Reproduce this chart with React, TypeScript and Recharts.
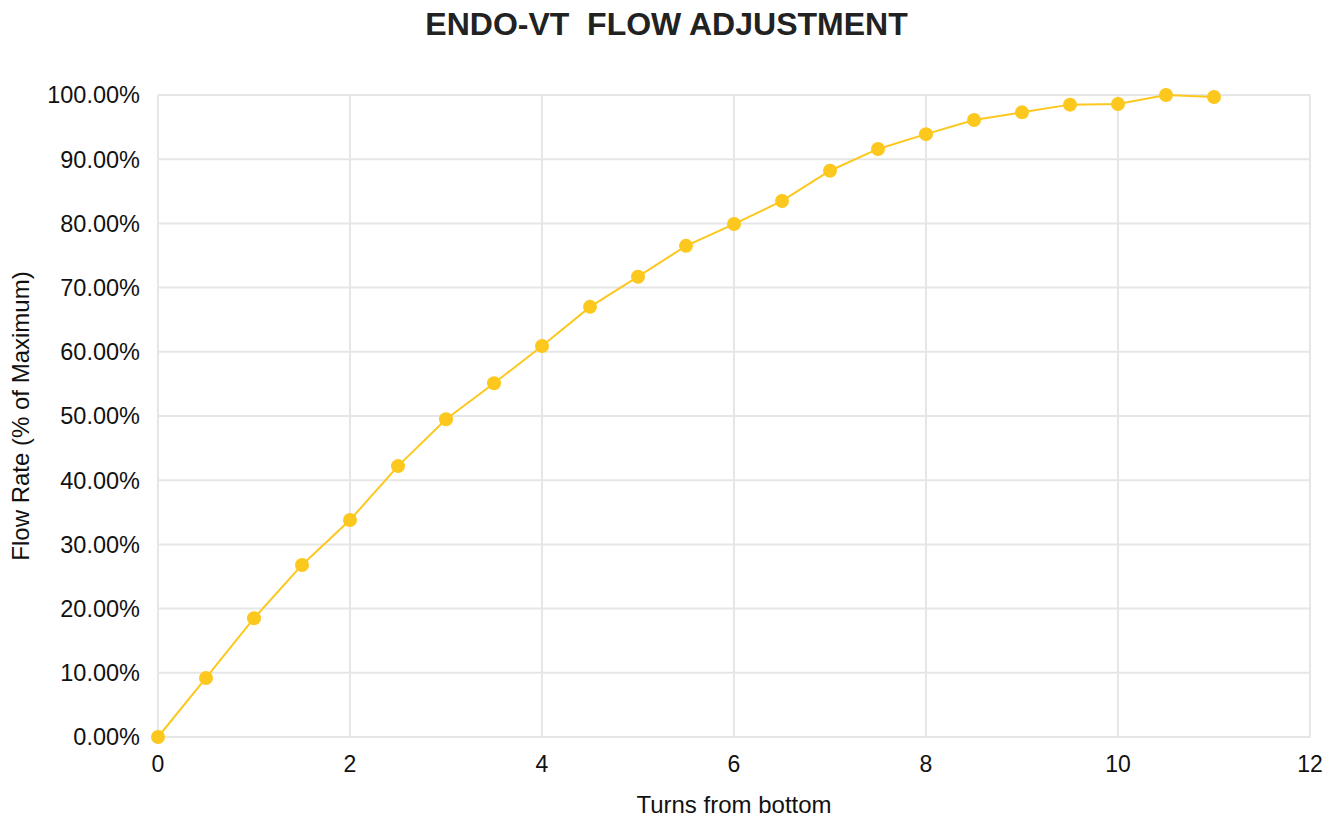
import { LineChart, Line, XAxis, YAxis, CartesianGrid, Label } from "recharts";

// turns from bottom
const turns = [0, 0.5, 1, 1.5, 2, 2.5, 3, 3.5, 4, 4.5, 5, 5.5, 6, 6.5, 7, 7.5, 8, 8.5, 9, 9.5, 10, 10.5, 11];
// flow rate as fraction of maximum
const flow = [
  0, 0.092, 0.185, 0.268, 0.338, 0.422, 0.495, 0.551, 0.609, 0.67, 0.717, 0.765, 0.799,
  0.835, 0.882, 0.916, 0.939, 0.961, 0.973, 0.985, 0.986, 1.0, 0.997,
];
const xTicks = [0, 2, 4, 6, 8, 10, 12];
const yTicks = [0, 0.1, 0.2, 0.3, 0.4, 0.5, 0.6, 0.7, 0.8, 0.9, 1.0];

const YELLOW = "#FCC81E";
const FONT = "'Liberation Sans', Arial, Helvetica, sans-serif";

const data = turns.map((t, i) => ({ turns: t, flow: flow[i] }));

export default function App() {
  return (
    <div style={{ position: "absolute", left: 0, top: 0, width: 1330, height: 820, background: "#fff", fontFamily: FONT }}>
      <div
        style={{
          position: "absolute",
          top: 5,
          left: 0,
          width: 1333,
          textAlign: "center",
          fontSize: 32,
          lineHeight: "38px",
          fontWeight: "bold",
          whiteSpace: "pre",
          color: "#222",
        }}
      >
        ENDO-VT  FLOW ADJUSTMENT
      </div>
      <LineChart
        width={1330}
        height={820}
        data={data}
        margin={{ top: 95, right: 20, bottom: 0, left: 0 }}
        style={{ fontFamily: FONT }}
      >
        <CartesianGrid stroke="#e6e6e6" strokeWidth={2} horizontalValues={yTicks} verticalValues={xTicks} />
        <XAxis
          dataKey="turns"
          type="number"
          domain={[0, 12]}
          ticks={xTicks}
          axisLine={false}
          tickLine={false}
          tickSize={0}
          tickMargin={19}
          height={83}
          tick={{ fill: "#111", fontSize: 23 }}
        >
          <Label value="Turns from bottom" position="insideBottom" offset={7} fill="#111" fontSize={24} />
        </XAxis>
        <YAxis
          type="number"
          domain={[0, 1]}
          ticks={yTicks}
          axisLine={false}
          tickLine={false}
          tickSize={0}
          tickMargin={18}
          width={158}
          tick={{ fill: "#111", fontSize: 23.5 }}
          tickFormatter={(v: number) => `${(v * 100).toFixed(2)}%`}
        >
          <Label
            value="Flow Rate (% of Maximum)"
            angle={-90}
            position="insideLeft"
            offset={20}
            fill="#111"
            fontSize={24}
            style={{ textAnchor: "middle" }}
          />
        </YAxis>
        <Line
          type="linear"
          dataKey="flow"
          stroke={YELLOW}
          strokeWidth={2}
          dot={{ r: 7, fill: YELLOW, stroke: "none" }}
          activeDot={false}
          isAnimationActive={false}
        />
      </LineChart>
    </div>
  );
}
